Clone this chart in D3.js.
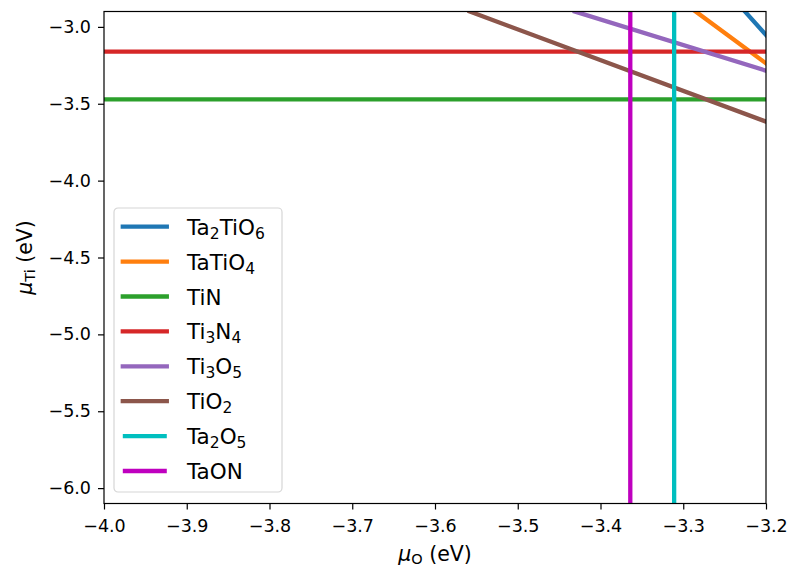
<!DOCTYPE html>
<html>
<head>
<meta charset="utf-8">
<script src="https://cdn.jsdelivr.net/npm/d3@7"></script>
<style>
  body { margin: 0; background: #fff; }
  svg { font-family: "DejaVu Sans", sans-serif; }
</style>
</head>
<body>
<div id="chart"></div>
<script>
// series names ("_n" marks a subscript digit)
const labels = ["Ta_2TiO_6", "TaTiO_4", "TiN", "Ti_3N_4", "Ti_3O_5", "TiO_2", "Ta_2O_5", "TaON"];
const colors = ["#1f77b4", "#ff7f0e", "#2ca02c", "#d62728", "#9467bd", "#8c564b", "#00bfbf", "#bf00bf"];

// end points of each line (mu_O, mu_Ti in eV)
const muO = [
    [-3.2255, -3.2],
    [-3.285, -3.2],
    [-4.0, -3.2],
    [-4.0, -3.2],
    [-3.431, -3.2],
    [-3.558, -3.2],
    [-3.311, -3.311],
    [-3.364, -3.364]
];
const muTi = [
    [-2.9, -3.053],
    [-2.9, -3.237],
    [-3.472, -3.472],
    [-3.161, -3.161],
    [-2.9, -3.285],
    [-2.9, -3.616],
    [-6.1, -2.9],
    [-6.1, -2.9]
];

const xTicks = [-4.0, -3.9, -3.8, -3.7, -3.6, -3.5, -3.4, -3.3, -3.2];
const yTicks = [-3.0, -3.5, -4.0, -4.5, -5.0, -5.5, -6.0];

let margin = {top: 11.5, right: 26, bottom: 68.5, left: 104};
let width = 792 - margin.left - margin.right;
let height = 572 - margin.top - margin.bottom;

let svg = d3.select("#chart").append("svg")
    .attr("width", 792)
    .attr("height", 572)
    .append("g")
    .attr("transform", "translate(" + margin.left + "," + margin.top + ")");

// scales
let x = d3.scaleLinear().domain([-4.0, -3.2]).range([0, width]);
let y = d3.scaleLinear().domain([-6.1, -2.9]).range([height, 0]);

svg.append("clipPath")
    .attr("id", "plot-clip")
    .append("rect")
    .attr("width", width)
    .attr("height", height);

let fmt = d => d3.format(".1f")(d).replace("-", "\u2212");

// axes
let xAxisG = svg.append("g")
    .attr("class", "x-axis axis")
    .attr("transform", "translate(0," + height + ")")
    .call(d3.axisBottom(x).tickValues(xTicks).tickFormat(fmt).tickSizeOuter(0).tickSize(6).tickPadding(10));

let yAxisG = svg.append("g")
    .attr("class", "y-axis axis")
    .call(d3.axisLeft(y).tickValues(yTicks).tickFormat(fmt).tickSizeOuter(0).tickSize(6).tickPadding(7));

[xAxisG, yAxisG].forEach(g => {
    g.attr("font-family", null).attr("font-size", null);
    g.selectAll("text")
        .style("font-family", "'DejaVu Sans', sans-serif")
        .style("font-size", "17.5px")
        .attr("fill", "#000");
    g.selectAll("line").attr("stroke", "#000").attr("stroke-width", 1.2);
    g.select(".domain").remove();
});

// lines
let line = d3.line().x(d => x(d[0])).y(d => y(d[1]));

let lines = svg.append("g").attr("clip-path", "url(#plot-clip)");
labels.forEach((name, i) => {
    let pts = d3.zip(muO[i], muTi[i]);
    lines.append("path")
        .datum(pts)
        .attr("fill", "none")
        .attr("stroke", colors[i])
        .attr("stroke-width", 4.3)
        .attr("stroke-linecap", i < 6 ? "square" : "butt")
        .attr("d", line);
});

// frame
svg.append("rect")
    .attr("width", width)
    .attr("height", height)
    .attr("fill", "none")
    .attr("stroke", "#000")
    .attr("stroke-width", 1.2);

// write a label with "_n" subscripts into a text element
function addRich(textSel, str, subSize) {
    str.split(/(_\w)/).filter(s => s.length).forEach(part => {
        if (part[0] === "_") {
            textSel.append("tspan")
                .style("font-size", subSize + "px")
                .attr("baseline-shift", "-22%")
                .text(part.slice(1));
        } else {
            textSel.append("tspan").text(part);
        }
    });
}

// legend
let legend = svg.append("g").attr("transform", "translate(" + (114 - margin.left) + "," + (208 - margin.top) + ")");
legend.append("rect")
    .attr("width", 168)
    .attr("height", 284)
    .attr("rx", 4)
    .attr("fill", "#fff")
    .attr("fill-opacity", 0.8)
    .attr("stroke", "#d6d6d6")
    .attr("stroke-width", 1.2);

let rowStep = 34.9;
labels.forEach((name, i) => {
    let cy = 18.7 + i * rowStep;
    legend.append("line")
        .attr("x1", 8.8)
        .attr("x2", 52.8)
        .attr("y1", cy)
        .attr("y2", cy)
        .attr("stroke", colors[i])
        .attr("stroke-width", 4.3)
        .attr("stroke-linecap", i < 6 ? "square" : "butt");
    let t = legend.append("text")
        .attr("x", 73)
        .attr("y", cy + 8)
        .style("font-size", "21.5px")
        .attr("fill", "#000");
    addRich(t, name, 15.5);
});

// axis titles
let xt = svg.append("text")
    .attr("x", width / 2)
    .attr("y", 560.5 - margin.top)
    .attr("text-anchor", "middle")
    .style("font-size", "20.5px");
xt.append("tspan").attr("font-style", "italic").text("\u03bc");
xt.append("tspan").style("font-size", "14.5px").attr("baseline-shift", "-22%").text("O");
xt.append("tspan").text(" (eV)");

let yt = svg.append("text")
    .attr("transform", "translate(" + (31.5 - margin.left) + "," + (height / 2) + ") rotate(-90)")
    .attr("text-anchor", "middle")
    .style("font-size", "20.5px");
yt.append("tspan").attr("font-style", "italic").text("\u03bc");
yt.append("tspan").style("font-size", "14.5px").attr("baseline-shift", "-22%").text("Ti");
yt.append("tspan").text(" (eV)");
</script>
</body>
</html>
